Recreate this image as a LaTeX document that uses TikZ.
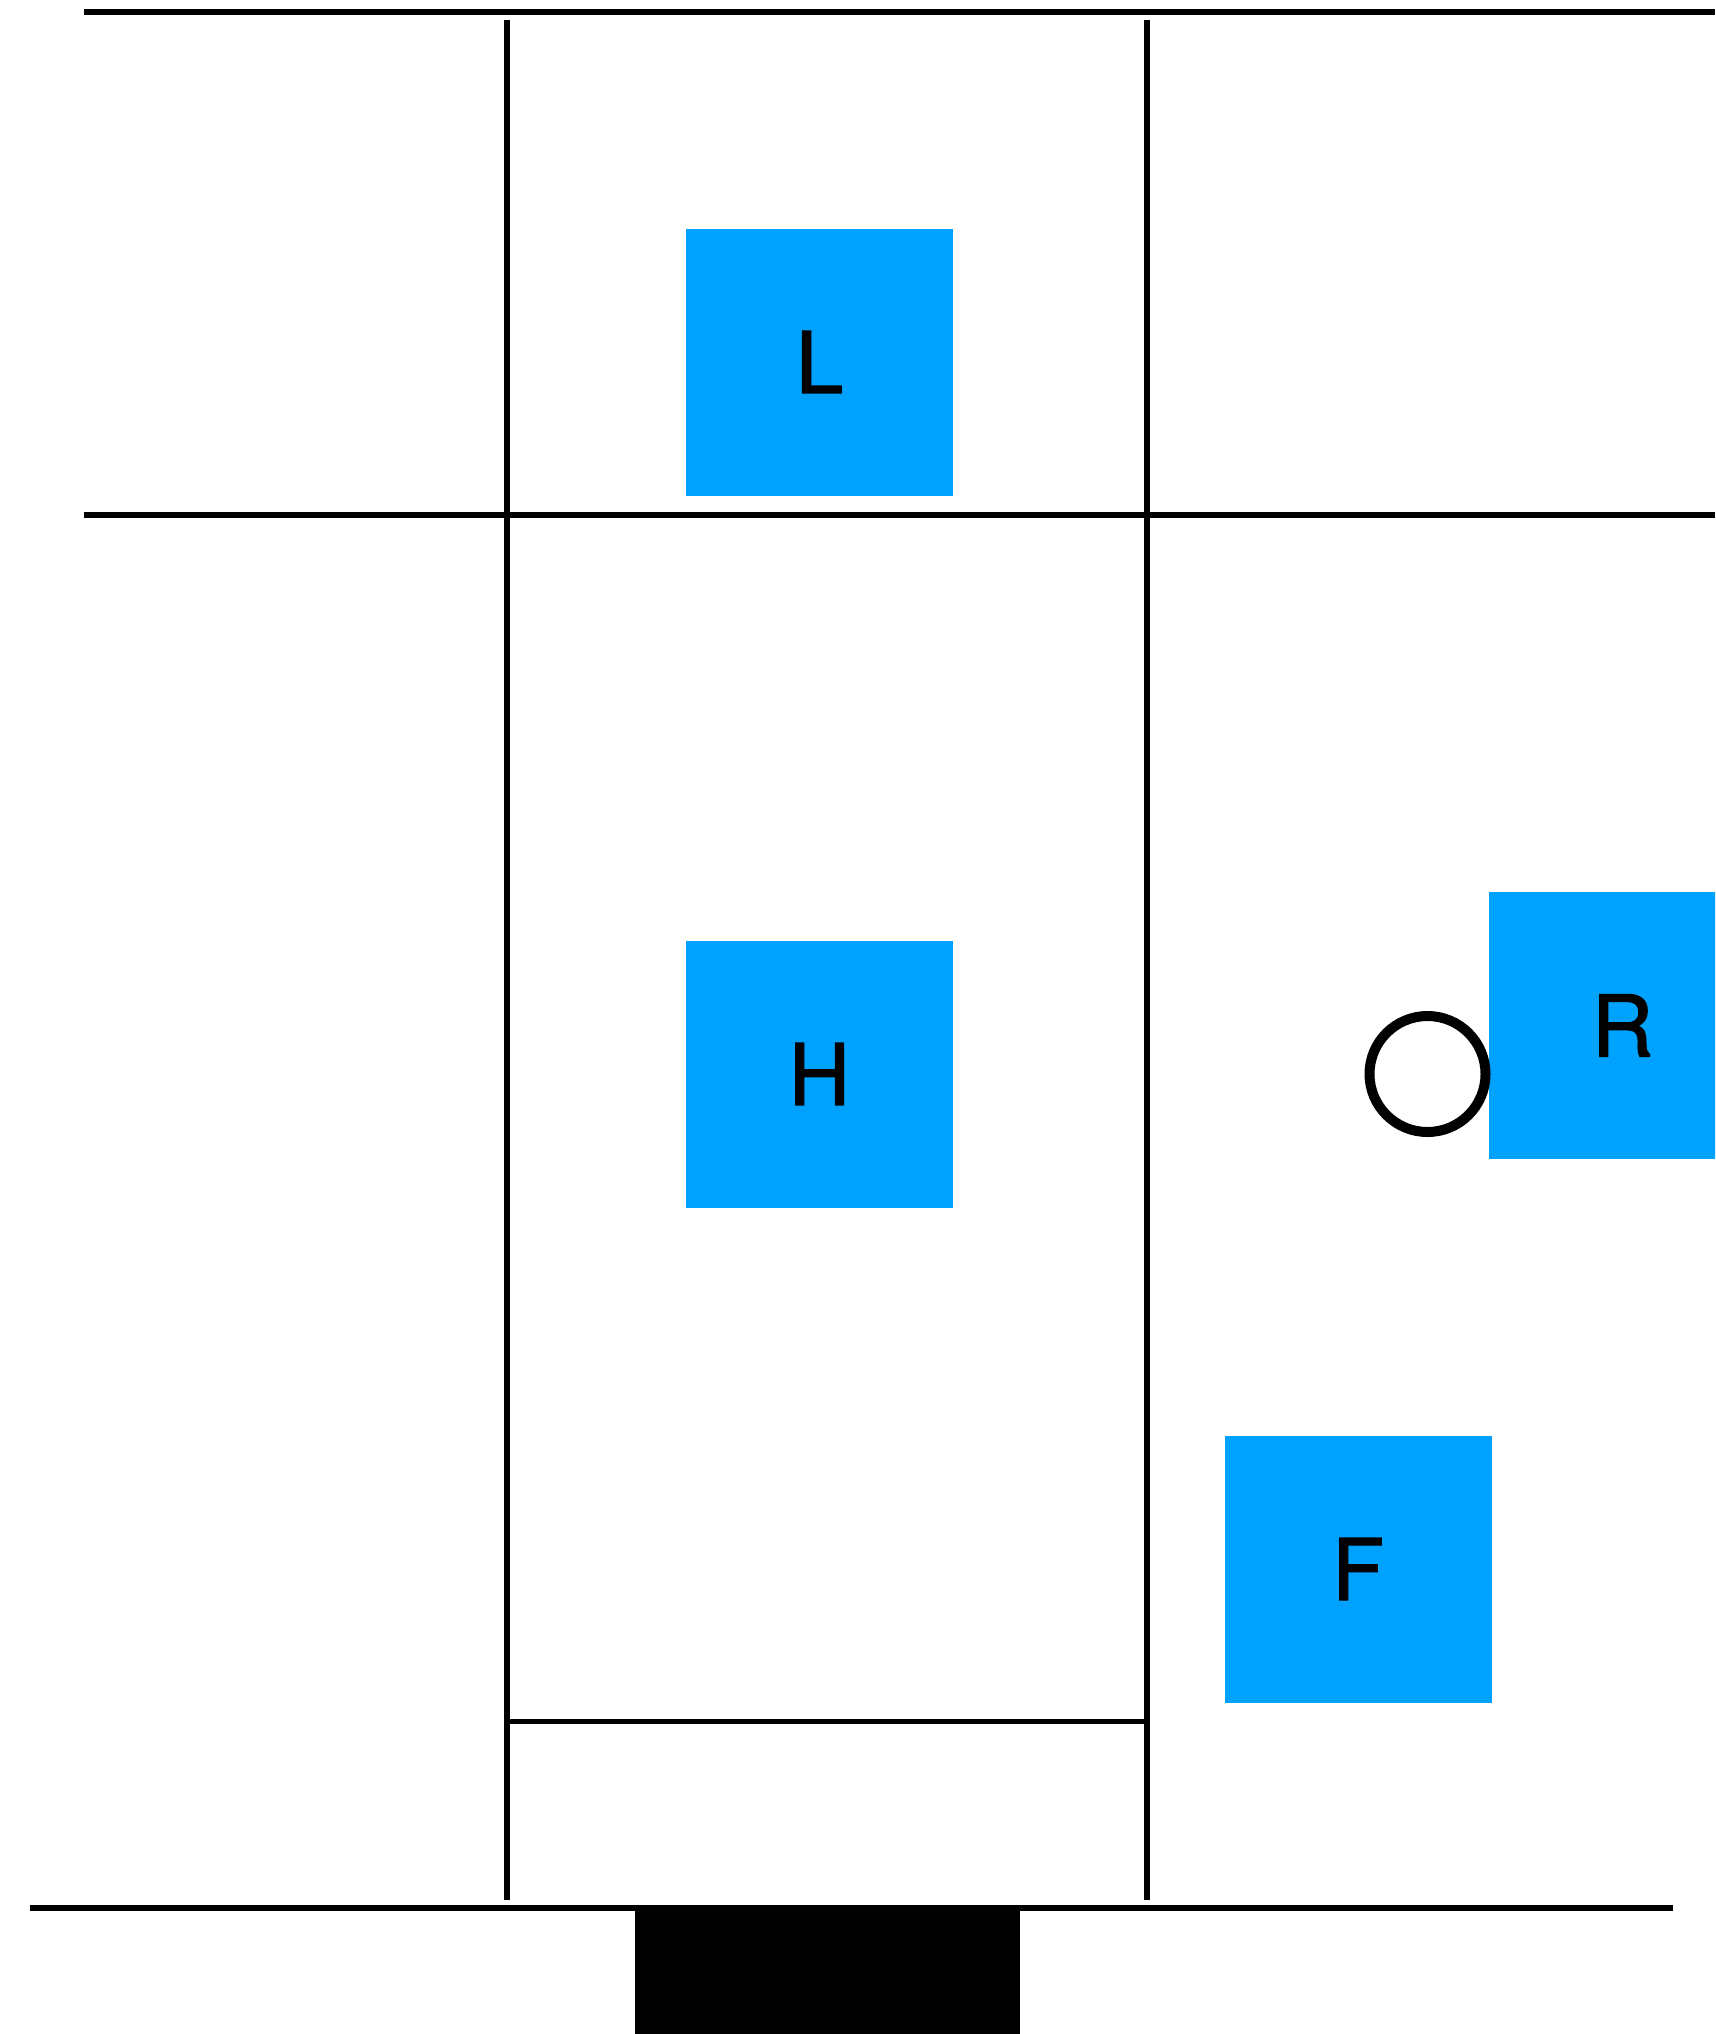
\documentclass[tikz,border=0pt]{standalone}
\usepackage{fontspec}
\setmainfont{TeX Gyre Heros}
\newfontfamily\labelfont[FakeBold=1.6]{TeX Gyre Heros}
\definecolor{boxblue}{RGB}{0,162,255}
\begin{document}
\begin{tikzpicture}[x=0.5pt,y=-0.5pt,
  wall/.style={line width=2.6pt, black},
  room/.style={rectangle, fill=boxblue, minimum width=133.5pt, minimum height=133.5pt, inner sep=0pt, font=\labelfont\fontsize{42.5}{50}\selectfont},
  ring/.style={circle, draw=black, line width=5pt, minimum size=58pt, inner sep=0pt}]
\clip (0,0) rectangle (1715,2034);
% walls
\coordinate (t1) at (84,12);   \coordinate (t2) at (1715,12);
\coordinate (m1) at (84,515);  \coordinate (m2) at (1715,515);
\coordinate (v1a) at (507,20); \coordinate (v1b) at (507,1900);
\coordinate (v2a) at (1147,20); \coordinate (v2b) at (1147,1900);
\coordinate (s1) at (507,1721.5); \coordinate (s2) at (1147,1721.5);
\coordinate (b1) at (30,1908); \coordinate (b2) at (1673,1908);
\draw[wall] (t1) -- (t2);
\draw[wall] (m1) -- (m2);
\draw[wall] (v1a) -- (v1b);
\draw[wall] (v2a) -- (v2b);
\draw[wall] (s1) -- (s2);
\draw[wall] (b1) -- (b2);
\fill[black] (635,1908) rectangle (1020,2034);
% boxes
\node[room] (L) at (819.5,362) {\raisebox{-1pt}{L}};
\node[room] (H) at (819.5,1074) {\raisebox{-1pt}{H}};
\node[room] (R) at (1622.5,1025.5) {\raisebox{-1pt}{R}};
\node[room] (F) at (1358,1569) {\raisebox{-1pt}{F}};
\node[ring] (C) at (1427.5,1074) {};
\end{tikzpicture}
\end{document}
